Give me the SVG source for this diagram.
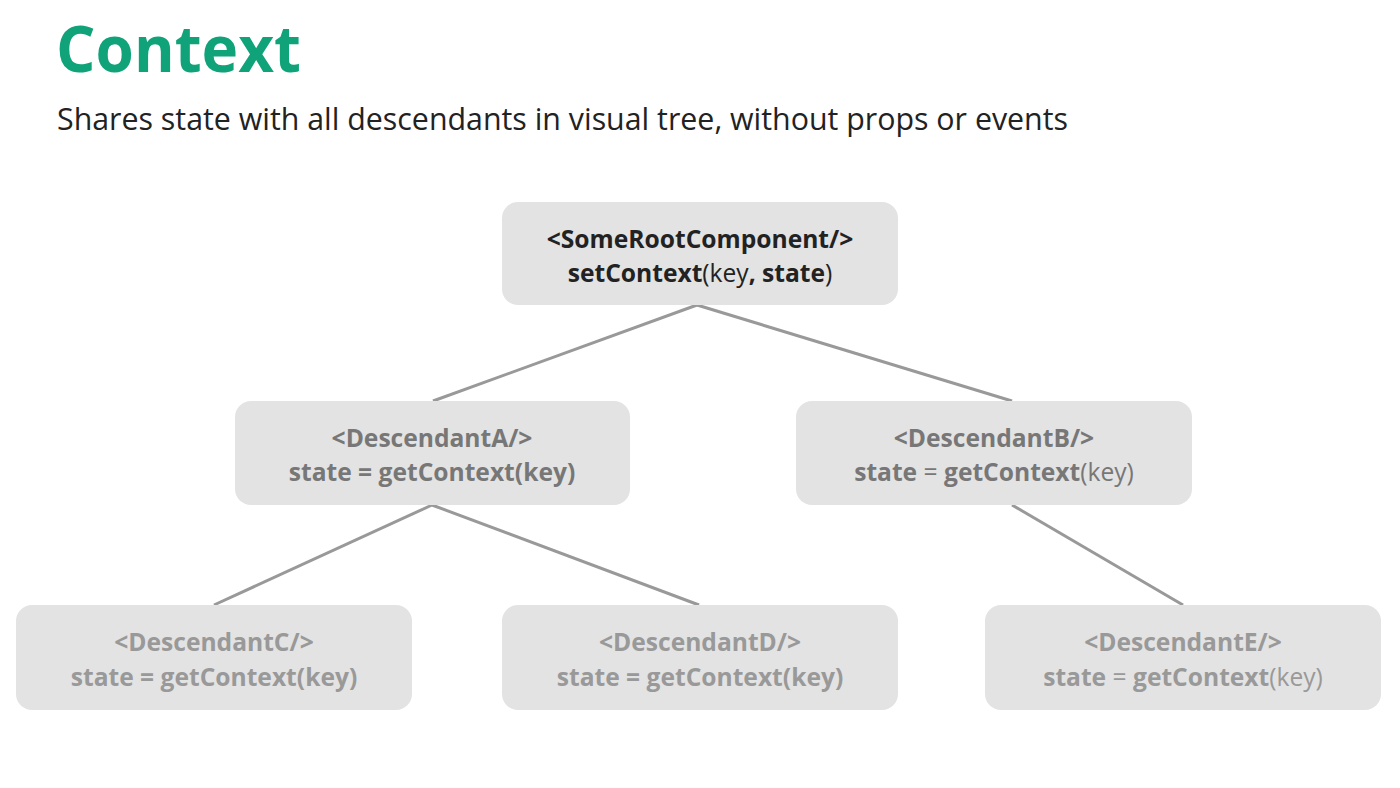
<svg xmlns="http://www.w3.org/2000/svg" width="1400" height="788" viewBox="0 0 1400 788">
<style>
.box{fill:#e3e3e3}
.t{font-family:"Open Sans","Noto Sans","Liberation Sans",sans-serif;font-size:24.6px;text-anchor:middle}
.b{font-weight:700}
.n{font-weight:400}
.root{fill:#222}
.mid{fill:#777}
.low{fill:#999}
.edge{stroke:#999;stroke-width:3;fill:none}
</style>
<rect width="1400" height="788" fill="#ffffff"/>
<text x="56" y="72" font-family="'Open Sans','Noto Sans','Liberation Sans',sans-serif" font-size="64" font-weight="700" fill="#10a37a" textLength="245" lengthAdjust="spacingAndGlyphs">Context</text>
<text x="57" y="130" font-family="'Open Sans','Noto Sans','Liberation Sans',sans-serif" font-size="30.5" fill="#222" textLength="1011" lengthAdjust="spacingAndGlyphs">Shares state with all descendants in visual tree, without props or events</text>
<g id="connectors">
<line class="edge" x1="697" y1="305" x2="433" y2="401"/>
<line class="edge" x1="697" y1="305" x2="1012" y2="401"/>
<line class="edge" x1="432" y1="505" x2="214" y2="605"/>
<line class="edge" x1="432" y1="505" x2="699" y2="605"/>
<line class="edge" x1="1012" y1="505" x2="1183" y2="605"/>
</g>
<g id="root">
<rect class="box" x="502" y="202" width="396" height="103" rx="16"/>
<text class="t b root" x="700" y="248">&lt;SomeRootComponent/&gt;</text>
<text class="t root" x="700" y="282"><tspan class="b">setContext</tspan><tspan class="n">(key</tspan><tspan class="b">, state</tspan><tspan class="n">)</tspan></text>
</g>
<g id="descendantA">
<rect class="box" x="235" y="401" width="395" height="104" rx="16"/>
<text class="t b mid" x="432" y="447">&lt;DescendantA/&gt;</text>
<text class="t b mid" x="432" y="481">state = getContext(key)</text>
</g>
<g id="descendantB">
<rect class="box" x="796" y="401" width="396" height="104" rx="16"/>
<text class="t b mid" x="994" y="447">&lt;DescendantB/&gt;</text>
<text class="t mid" x="994" y="481"><tspan class="b">state</tspan><tspan class="n"> = </tspan><tspan class="b">getContext</tspan><tspan class="n">(key)</tspan></text>
</g>
<g id="descendantC">
<rect class="box" x="16" y="605" width="396" height="105" rx="16"/>
<text class="t b low" x="214" y="651">&lt;DescendantC/&gt;</text>
<text class="t b low" x="214" y="686">state = getContext(key)</text>
</g>
<g id="descendantD">
<rect class="box" x="502" y="605" width="396" height="105" rx="16"/>
<text class="t b low" x="700" y="651">&lt;DescendantD/&gt;</text>
<text class="t b low" x="700" y="686">state = getContext(key)</text>
</g>
<g id="descendantE">
<rect class="box" x="985" y="605" width="396" height="105" rx="16"/>
<text class="t b low" x="1183" y="651">&lt;DescendantE/&gt;</text>
<text class="t low" x="1183" y="686"><tspan class="b">state</tspan><tspan class="n"> = </tspan><tspan class="b">getContext</tspan><tspan class="n">(key)</tspan></text>
</g>
</svg>
